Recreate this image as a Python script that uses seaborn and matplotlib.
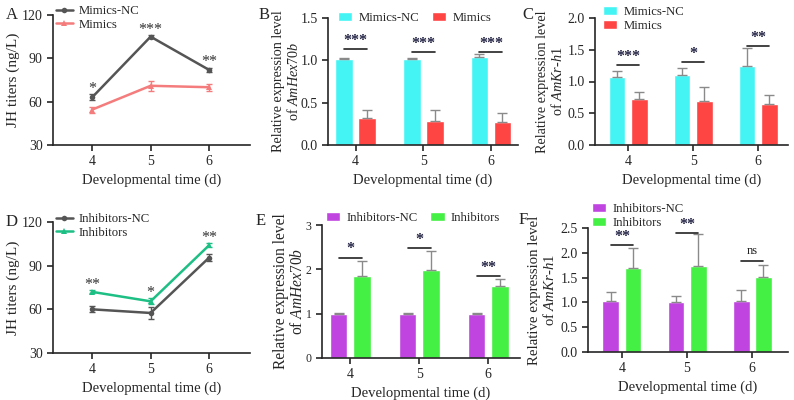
import numpy as np
import pandas as pd
import matplotlib
matplotlib.use("Agg")
import matplotlib.pyplot as plt
import seaborn as sns

# === DATA ===
days = [4, 5, 6]

# A: JH titers, mimics
mimics_nc_jh = [63.0, 105.0, 82.0]
mimics_nc_jh_err = [2.0, 1.0, 1.5]
mimics_jh = [54.5, 71.0, 70.0]
mimics_jh_err = [2.0, 3.5, 2.5]
stars_a = ["*", "***", "**"]

# D: JH titers, inhibitors
inhib_nc_jh = [60.0, 57.5, 95.5]
inhib_nc_jh_err = [2.0, 4.0, 2.5]
inhib_jh = [72.0, 65.5, 104.0]
inhib_jh_err = [1.0, 2.0, 1.5]
stars_d = ["**", "*", "**"]

# B: AmHex70b, mimics
hex_mnc = [1.01, 1.02, 1.04]
hex_mnc_err = [0.02, 0.01, 0.04]
hex_m = [0.32, 0.28, 0.27]
hex_m_err = [0.09, 0.13, 0.11]
sig_b = [1.13, 1.10, 1.10]
stars_b = ["***", "***", "***"]

# C: AmKr-h1, mimics
kr_mnc = [1.07, 1.10, 1.24]
kr_mnc_err = [0.09, 0.12, 0.28]
kr_m = [0.72, 0.70, 0.65]
kr_m_err = [0.11, 0.21, 0.13]
sig_c = [1.26, 1.30, 1.56]
stars_c = ["***", "*", "**"]

# E: AmHex70b, inhibitors
hex_inc = [1.0, 1.0, 1.0]
hex_inc_err = [0.01, 0.01, 0.01]
hex_i = [1.85, 1.98, 1.62]
hex_i_err = [0.33, 0.44, 0.17]
sig_e = [2.26, 2.48, 1.84]
stars_e = ["*", "*", "**"]

# F: AmKr-h1, inhibitors
kr_inc = [1.03, 1.01, 1.02]
kr_inc_err = [0.18, 0.12, 0.24]
kr_i = [1.69, 1.74, 1.52]
kr_i_err = [0.41, 0.63, 0.23]
sig_f = [2.16, 2.40, 1.83]
stars_f = ["**", "**", "ns"]

mimic_names = ["Mimics-NC", "Mimics"]
inhib_names = ["Inhibitors-NC", "Inhibitors"]

# === STYLE ===
sns.set_style("ticks")
plt.rcParams["font.family"] = ["Liberation Serif", "DejaVu Serif"]
plt.rcParams["mathtext.fontset"] = "custom"
plt.rcParams["mathtext.rm"] = "Liberation Serif"
plt.rcParams["mathtext.it"] = "Liberation Serif:italic"
plt.rcParams["axes.linewidth"] = 1.2
plt.rcParams["xtick.major.width"] = 1.2
plt.rcParams["ytick.major.width"] = 1.2
plt.rcParams["xtick.major.size"] = 4
plt.rcParams["ytick.major.size"] = 4

W, H = 794, 400
LEG_FS = 9.2
fig = plt.figure(figsize=(W / 100, H / 100), dpi=100)


def box(l, t, r, b):
    return [l / W, 1 - b / H, (r - l) / W, (b - t) / H]


def fpt(x, y):
    return (x / W, 1 - y / H)


def line_panel(ax, nc, nc_err, tr, tr_err, names, colors, stars, ylim, yticks, leg_at, lab_x):
    df = pd.DataFrame({"day": days * 2, "val": nc + tr,
                       "group": [names[0]] * 3 + [names[1]] * 3})
    sns.lineplot(data=df, x="day", y="val", hue="group", style="group",
                 markers=["o", "^"], dashes=False, palette=colors,
                 markersize=4, linewidth=1.8, markeredgewidth=0, ax=ax)
    ax.errorbar(days, nc, yerr=nc_err, fmt="none", ecolor=colors[0], capsize=2, elinewidth=1)
    ax.errorbar(days, tr, yerr=tr_err, fmt="none", ecolor=colors[1], capsize=2, elinewidth=1)
    top = np.maximum(np.array(nc) + nc_err, np.array(tr) + tr_err)
    for d, t, s in zip(days, top, stars):
        ax.annotate(s, (d, t), xytext=(0, 4), textcoords="offset points",
                    ha="center", va="center", fontsize=11.5, color="#333333")
    ax.set_xlim(3.33, 6.7)
    ax.set_ylim(*ylim)
    ax.set_xticks(days)
    ax.set_yticks(yticks)
    ax.set_xlabel("Developmental time (d)", fontsize=10.5)
    ax.set_ylabel("JH titers (ng/L)", fontsize=11)
    ax.yaxis.set_label_coords(lab_x, 0.5)
    ax.tick_params(labelsize=10)
    sns.despine(ax=ax)
    sns.move_legend(ax, "upper left", bbox_to_anchor=fpt(*leg_at), bbox_transform=fig.transFigure,
                    frameon=False, title=None, borderaxespad=0, borderpad=0,
                    handlelength=1.3, handletextpad=0.5, labelspacing=0.15, fontsize=LEG_FS)


def bar_panel(ax, nc, nc_err, tr, tr_err, names, colors, stars, sig_y, ylim, yticks,
              gene, xlim, leg_at, ncol, lab_x, lab_size):
    df = pd.DataFrame({"day": [str(d) for d in days] * 2, "val": nc + tr,
                       "group": [names[0]] * 3 + [names[1]] * 3})
    sns.barplot(data=df, x="day", y="val", hue="group", palette=colors, saturation=1,
                width=0.68, gap=0.24, errorbar=None, ax=ax)
    bars = list(ax.containers[:2])
    centers = []
    for cont, err in zip(bars, [nc_err, tr_err]):
        xs = [p.get_x() + p.get_width() / 2 for p in cont]
        hs = [p.get_height() for p in cont]
        centers.append(xs)
        ax.errorbar(xs, hs, yerr=[np.zeros(len(err)), err], fmt="none",
                    ecolor="#8a8a8a", capsize=3.5, elinewidth=1)
    for a, b, y, s in zip(centers[0], centers[1], sig_y, stars):
        ax.plot([a, b], [y, y], color="#222222", lw=1.2)
        if s == "ns":
            ax.annotate(s, ((a + b) / 2, y), xytext=(0, 3), textcoords="offset points",
                        ha="center", va="bottom", fontsize=9, color="#222222")
        else:
            ax.annotate(s, ((a + b) / 2, y), xytext=(0, 6), textcoords="offset points",
                        ha="center", va="center", fontsize=11.5, fontweight="bold", color="#222244")
    ax.set_xlim(*xlim)
    ax.set_ylim(*ylim)
    ax.set_yticks(yticks)
    ax.set_xlabel("Developmental time (d)", fontsize=10.5)
    ax.set_ylabel("Relative expression level\nof " + gene, fontsize=lab_size, linespacing=1.1)
    ax.yaxis.set_label_coords(lab_x, 0.5)
    ax.tick_params(labelsize=10)
    sns.despine(ax=ax)
    sns.move_legend(ax, "upper left", bbox_to_anchor=fpt(*leg_at), bbox_transform=fig.transFigure,
                    ncol=ncol, frameon=False, title=None, borderaxespad=0, borderpad=0,
                    handlelength=1.1, handleheight=0.75, handletextpad=0.5,
                    columnspacing=1.0, labelspacing=0.15, fontsize=LEG_FS)


hex_label = r"$\it{AmHex70b}$"
kr_label = r"$\it{AmKr}$-$\it{h}$1"
fmt1 = matplotlib.ticker.FormatStrFormatter("%.1f")

axA = fig.add_axes(box(53, 15, 250, 145))
line_panel(axA, mimics_nc_jh, mimics_nc_jh_err, mimics_jh, mimics_jh_err, mimic_names,
           ["#555555", "#f47c7c"], stars_a, (30, 120), [30, 60, 90, 120], (56, 5), -0.165)

axB = fig.add_axes(box(328, 18, 518, 145))
bar_panel(axB, hex_mnc, hex_mnc_err, hex_m, hex_m_err, mimic_names, ["#44f4f4", "#ff4444"],
          stars_b, sig_b, (0, 1.5), [0.0, 0.5, 1.0, 1.5], hex_label, (-0.41, 2.4), (338, 12), 2,
          -0.14, 10.2)
axB.yaxis.set_major_formatter(fmt1)

axC = fig.add_axes(box(595, 18, 788, 145))
bar_panel(axC, kr_mnc, kr_mnc_err, kr_m, kr_m_err, mimic_names, ["#44f4f4", "#ff4444"],
          stars_c, sig_c, (0, 2.0), [0.0, 0.5, 1.0, 1.5, 2.0], kr_label, (-0.51, 2.46), (603, 6), 1,
          -0.155, 10.3)
axC.yaxis.set_major_formatter(fmt1)

axD = fig.add_axes(box(53, 222, 250, 353))
line_panel(axD, inhib_nc_jh, inhib_nc_jh_err, inhib_jh, inhib_jh_err, inhib_names,
           ["#555555", "#1dbf85"], stars_d, (30, 120), [30, 60, 90, 120], (56, 213), -0.165)

axE = fig.add_axes(box(322, 225, 520, 358))
bar_panel(axE, hex_inc, hex_inc_err, hex_i, hex_i_err, inhib_names, ["#c044e0", "#44f044"],
          stars_e, sig_e, (0, 3), [0, 1, 2, 3], hex_label, (-0.41, 2.46), (326, 212), 2,
          -0.08, 11.2)
axE.tick_params(axis="y", labelsize=8.5)

axF = fig.add_axes(box(588, 228, 788, 352))
bar_panel(axF, kr_inc, kr_inc_err, kr_i, kr_i_err, inhib_names, ["#c044e0", "#44f044"],
          stars_f, sig_f, (0, 2.5), [0.0, 0.5, 1.0, 1.5, 2.0, 2.5], kr_label, (-0.52, 2.55), (592, 203), 1,
          -0.155, 10.6)
axF.yaxis.set_major_formatter(fmt1)

for letter, x, y in [("A", 6, 15), ("B", 259, 15), ("C", 522, 15),
                     ("D", 6, 222), ("E", 256, 221), ("F", 519, 220)]:
    fig.text(x / W, 1 - y / H, letter, fontsize=12, ha="left", va="center")

fig.savefig("out.png", dpi=100)
